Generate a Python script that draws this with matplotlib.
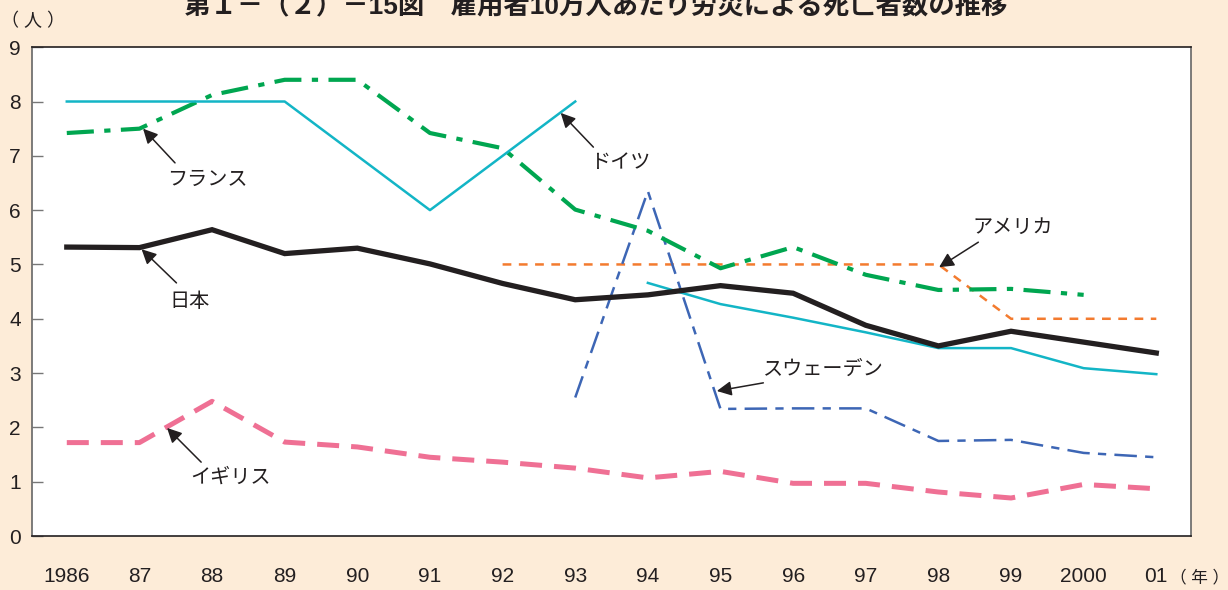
import numpy as np
import matplotlib.pyplot as plt

plt.rcParams['font.family'] = ['Liberation Sans', 'Noto Sans CJK JP', 'DejaVu Sans']

nan = np.nan
years = ['1986', '87', '88', '89', '90', '91', '92', '93',
         '94', '95', '96', '97', '98', '99', '2000', '01']

japan = [5.32, 5.31, 5.64, 5.20, 5.30, 5.01, 4.65, 4.35,
         4.44, 4.61, 4.47, 3.88, 3.50, 3.77, 3.57, 3.37]
france = [7.42, 7.50, 8.12, 8.40, 8.40, 7.42, 7.14, 6.01,
          5.62, 4.93, 5.32, 4.81, 4.53, 4.55, 4.44, nan]
germany_west = [8.0, 8.0, 8.0, 8.0, 7.0, 6.0, 7.0, 8.0,
                nan, nan, nan, nan, nan, nan, nan, nan]
germany = [nan, nan, nan, nan, nan, nan, nan, nan,
           4.66, 4.27, 4.02, 3.75, 3.46, 3.46, 3.09, 2.98]
sweden = [nan, nan, nan, nan, nan, nan, nan, 2.55,
          6.35, 2.34, 2.35, 2.35, 1.75, 1.77, 1.53, 1.45]
usa = [nan, nan, nan, nan, nan, nan, 5.0, 5.0,
       5.0, 5.0, 5.0, 5.0, 5.0, 4.0, 4.0, 4.0]
uk = [1.72, 1.72, 2.48, 1.73, 1.64, 1.45, 1.36, 1.25,
      1.07, 1.19, 0.97, 0.97, 0.81, 0.70, 0.95, 0.87]

bg = '#fdecd8'
x = np.arange(len(years))

fig = plt.figure(figsize=(12.28, 5.9), dpi=100, facecolor=bg)
ax = fig.add_axes([0.026, 0.0915, 0.944, 0.8285])
ax.set_facecolor('white')

ax.plot(x, uk, color='#ef7094', lw=3.6, ls=(0, (4.4, 2.4)), zorder=3)
ax.plot(x, usa, color='#f37b2f', lw=1.8, ls=(0, (3.5, 3.0)), zorder=3)
ax.plot(x, sweden, color='#3d66b5', lw=1.8, ls=(0, (9, 3.3, 3.3, 3.3)), zorder=3)
ax.plot(x, germany_west, color='#13b5c6', lw=1.8, zorder=4)
ax.plot(x, germany, color='#13b5c6', lw=1.8, zorder=4)
ax.plot(x, france, color='#00a650', lw=3.0, ls=(0, (6.5, 2.5, 1.5, 2.5)), zorder=3)
ax.plot(x, japan, color='#231f20', lw=3.8, zorder=5, solid_joinstyle='miter')

# country labels with arrows
notes = [
    ('フランス', (1.05, 7.50), (1.49, 6.87), (1.93, 6.57)),
    ('日本', (1.03, 5.28), (1.51, 4.66), (1.69, 4.31)),
    ('イギリス', (1.38, 1.99), (1.85, 1.36), (2.25, 1.09)),
    ('ドイツ', (6.80, 7.79), (7.25, 7.16), (7.62, 6.88)),
    ('アメリカ', (12.01, 4.95), (12.55, 5.41), (13.03, 5.69)),
    ('スウェーデン', (8.95, 2.67), (9.59, 2.82), (10.41, 3.06)),
]
for label, tip, tail, pos in notes:
    ax.annotate('', xy=tip, xytext=tail,
                arrowprops=dict(arrowstyle='-|>', color='#231f20', lw=1.1,
                                mutation_scale=22, shrinkA=0, shrinkB=0),
                zorder=6)
    ax.text(pos[0], pos[1], label, fontsize=14.5, color='#231f20',
            ha='center', va='center', zorder=6)

ax.set_xlim(-0.48, 15.48)
ax.set_ylim(0, 9)
ax.set_yticks(range(0, 10))
ax.set_xticks(x)
ax.set_xticklabels(years)
ax.tick_params(axis='y', direction='in', length=8, width=1, color='#777777',
               labelsize=15, pad=8, labelcolor='#231f20')
ax.tick_params(axis='x', length=0, labelsize=15, pad=22, labelcolor='#231f20')

for side in ['top', 'bottom']:
    ax.spines[side].set_color('#231f20')
for side in ['left', 'right']:
    ax.spines[side].set_color('#666666')
for s in ax.spines.values():
    s.set_linewidth(1.2)

fig.text(0.485, 0.976, '第１－（２）－15図　雇用者10万人あたり労災による死亡者数の推移',
         fontsize=19, fontweight='bold', ha='center', va='baseline', color='#231f20')
fig.text(0.027, 0.963, '（ 人 ）', fontsize=13, ha='center', va='center', color='#231f20')
fig.text(0.977, 0.022, '（ 年 ）', fontsize=12, ha='center', va='center', color='#231f20')

fig.savefig('out.png', dpi=100, facecolor=bg)
